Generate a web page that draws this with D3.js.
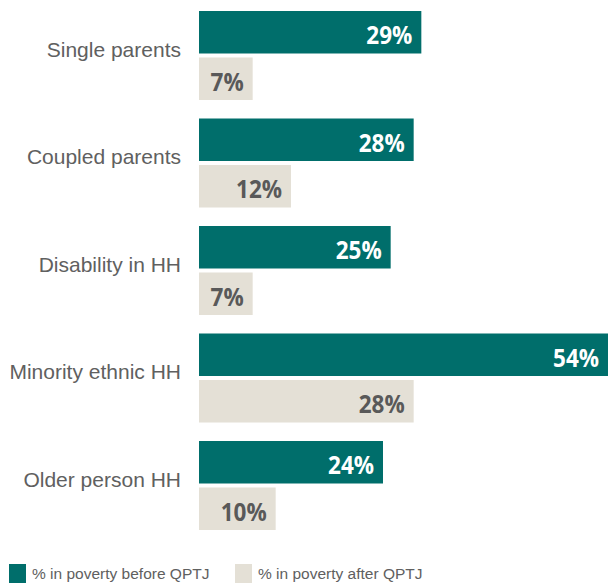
<!DOCTYPE html>
<html>
<head>
<meta charset="utf-8">
<script src="https://cdn.jsdelivr.net/npm/d3@7"></script>
<style>
  html, body { margin: 0; padding: 0; background: #fff; }
  svg { display: block; }
</style>
</head>
<body>
<svg id="chart" width="608" height="583"></svg>
<script>
const categories = ["Single parents", "Coupled parents", "Disability in HH", "Minority ethnic HH", "Older person HH"];
const beforeValues = [29, 28, 25, 54, 24];
const afterValues = [7, 12, 7, 28, 10];
const seriesNames = ["% in poverty before QPTJ", "% in poverty after QPTJ"];
const seriesColors = ["#006e6b", "#e4e0d6"];
const labelColors = ["#ffffff", "#595959"];

const svg = d3.select("#chart");

const x = d3.scaleLinear().domain([0, 54]).range([199, 613]);
const y = d3.scaleBand().domain(categories).range([11, 548.5]).paddingInner(0).paddingOuter(0);
const barH = 42.5, barGap = 4;

const groups = svg.selectAll("g.cat")
  .data(categories.map((c, i) => ({ c, vals: [beforeValues[i], afterValues[i]] })))
  .join("g")
  .attr("class", "cat")
  .attr("transform", d => `translate(0,${y(d.c)})`);

groups.append("text")
  .attr("x", 181)
  .attr("y", 45.5)
  .attr("text-anchor", "end")
  .attr("font-family", "'Liberation Sans', Arial, sans-serif")
  .attr("font-size", 21)
  .attr("fill", "#606060")
  .text(d => d.c);

groups.each(function (d) {
  const g = d3.select(this);
  d.vals.forEach((v, k) => {
    const top = k * (barH + barGap);
    g.append("rect")
      .attr("x", x(0))
      .attr("y", top)
      .attr("width", x(v) - x(0))
      .attr("height", barH)
      .attr("fill", seriesColors[k]);
    // slightly condensed bold value label
    g.append("text")
      .attr("transform", `translate(${Math.min(x(v), 608) - 9},${top + 33}) scale(0.9,1)`)
      .attr("text-anchor", "end")
      .attr("font-family", "'Open Sans', sans-serif")
      .attr("font-weight", 700)
      .attr("font-size", 25)
      .attr("fill", labelColors[k])
      .text(v + "%");
  });
});

// Legend
const legendX = [9, 235];
const legend = svg.selectAll("g.legend")
  .data(seriesNames)
  .join("g")
  .attr("class", "legend")
  .attr("transform", (d, i) => `translate(${legendX[i]},564)`);
legend.append("rect")
  .attr("width", 17).attr("height", 19)
  .attr("fill", (d, i) => seriesColors[i]);
legend.append("text")
  .attr("x", 23)
  .attr("y", 14.5)
  .attr("font-family", "'Liberation Sans', Arial, sans-serif")
  .attr("font-size", 15.5)
  .attr("fill", "#606060")
  .text(d => d);
</script>
</body>
</html>
